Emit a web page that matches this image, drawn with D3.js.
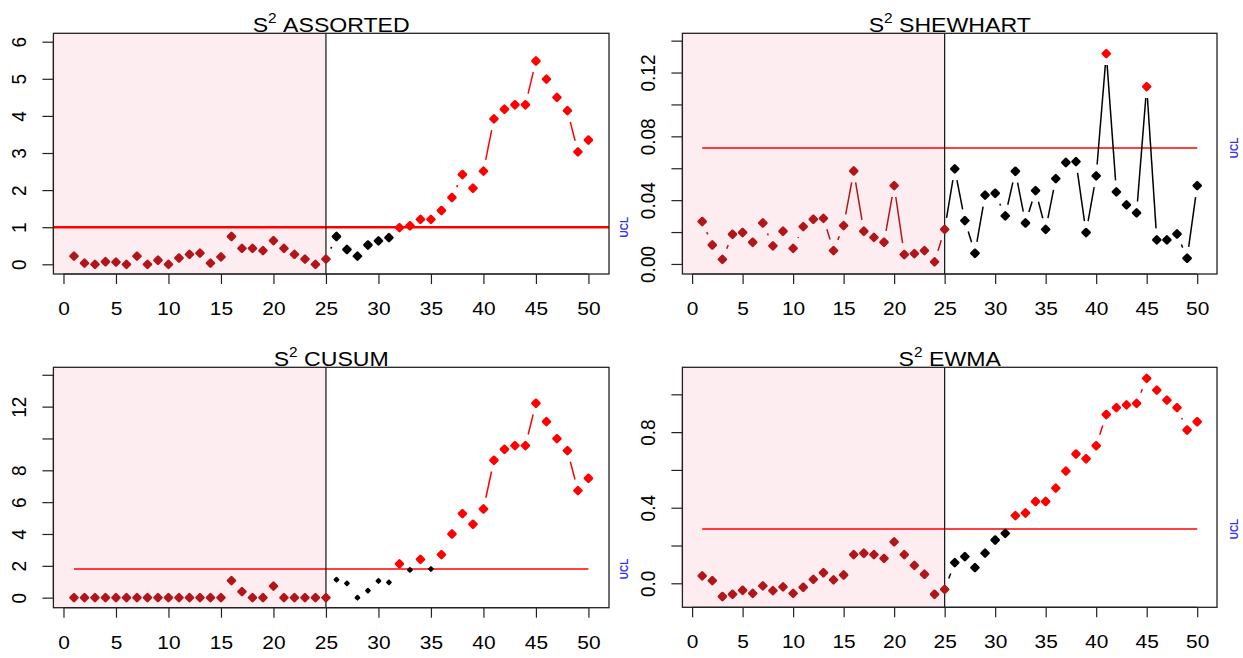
<!DOCTYPE html>
<html><head><meta charset="utf-8">
<script src="https://cdn.jsdelivr.net/npm/d3@7"></script>
<style>
html,body{margin:0;padding:0;background:#fff;}
svg{display:block;}
text{font-family:"Liberation Sans",Arial,sans-serif;}
</style></head>
<body>
<svg id="chart" width="1243" height="658"></svg>
<script>
// ---------- data ----------
const samples = [1,2,3,4,5,6,7,8,9,10,11,12,13,14,15,16,17,18,19,20,21,22,23,24,25,
                 26,27,28,29,30,31,32,33,34,35,36,37,38,39,40,41,42,43,44,45,46,47,48,49,50];
const xTicks = [0,5,10,15,20,25,30,35,40,45,50];
const phaseSplit = 25;

const assortedValues = [0.22,0.03,0.00,0.07,0.06,0.00,0.22,0.00,0.11,0.00,0.17,0.27,0.30,0.03,0.20,0.75,0.43,0.43,0.37,0.64,0.43,0.27,0.14,0.00,0.14,
                        0.75,0.40,0.22,0.52,0.63,0.72,0.99,1.04,1.21,1.21,1.45,1.80,2.42,2.05,2.51,3.92,4.18,4.30,4.30,5.48,4.99,4.50,4.14,3.03,3.35];
const assortedStatus = "IIIIIIIIIIIIIIIIIIIIIIIIINNNNNNOOOOOOOOOOOOOOOOOOO";
const assortedUCL = 1.0;
const assortedYTicks = [0,1,2,3,4,5,6];
const assortedYLabels = ["0","1","2","3","4","5","6"];

const shewhartValues = [0.0266,0.0119,0.0029,0.0186,0.0197,0.0136,0.0257,0.0113,0.0205,0.0098,0.0234,0.0280,0.0286,0.0084,0.0240,0.0583,0.0205,0.0167,0.0136,0.0491,0.0059,0.0065,0.0084,0.0013,0.0217,
                        0.0596,0.0272,0.0067,0.0431,0.0443,0.0301,0.0581,0.0257,0.0460,0.0217,0.0535,0.0636,0.0642,0.0197,0.0552,0.1319,0.0452,0.0370,0.0320,0.1112,0.0151,0.0151,0.0188,0.0036,0.0491];
const shewhartStatus = "IIIIIIIIIIIIIIIIIIIIIIIIINNNNNNNNNNNNNNNONNNONNNNN";
const shewhartUCL = 0.0727;
const shewhartYTicks = [0,0.02,0.04,0.06,0.08,0.10,0.12,0.14];
const shewhartYLabels = ["0.00","","0.04","","0.08","","0.12",""];

const cusumValues = [0,0,0,0,0,0,0,0,0,0,0,0,0,0,0,1.07,0.38,0,0,0.73,0,0,0,0,0,
                     1.13,0.90,0,0.44,1.05,0.96,2.12,1.74,2.41,1.80,2.70,4.00,5.28,4.61,5.57,8.63,9.32,9.55,9.55,12.21,11.06,9.99,9.24,6.72,7.50];
const cusumStatus = "IIIIIIIIIIIIIIIIIIIIIIIIINNNNNNONONOOOOOOOOOOOOOOO";
const cusumUCL = 1.80;
const cusumYTicks = [0,2,4,6,8,10,12,14];
const cusumYLabels = ["0","2","4","6","8","","12",""];

const ewmaValues = [0.039,0.014,-0.070,-0.058,-0.037,-0.053,-0.014,-0.039,-0.019,-0.053,-0.021,0.021,0.056,0.018,0.044,0.152,0.159,0.152,0.132,0.219,0.152,0.095,0.048,-0.058,-0.032,
                    0.109,0.141,0.083,0.160,0.229,0.264,0.358,0.372,0.433,0.433,0.504,0.594,0.684,0.659,0.728,0.893,0.930,0.944,0.952,1.084,1.022,0.969,0.930,0.811,0.855];
const ewmaStatus = "IIIIIIIIIIIIIIIIIIIIIIIIINNNNNNOOOOOOOOOOOOOOOOOOO";
const ewmaUCL = 0.287;
const ewmaYTicks = [0,0.2,0.4,0.6,0.8,1.0];
const ewmaYLabels = ["0.0","","0.4","","0.8",""];

const titles = ["ASSORTED","SHEWHART","CUSUM","EWMA"];

// ---------- layout / style ----------
const panels = [
  {title:titles[0], values:assortedValues, status:assortedStatus, ucl:assortedUCL, yTicks:assortedYTicks, yLabels:assortedYLabels,
   box:{x0:53.4,x1:609,y0:33.3,y1:274}, yDom:[-0.261,6.226], uclFull:true, smallN:false, uclLabelX:624},
  {title:titles[1], values:shewhartValues, status:shewhartStatus, ucl:shewhartUCL, yTicks:shewhartYTicks, yLabels:shewhartYLabels,
   box:{x0:682.4,x1:1217,y0:33.3,y1:274}, yDom:[-0.0063,0.1446], uclFull:false, smallN:false, uclLabelX:1234, blackLines:true},
  {title:titles[2], values:cusumValues, status:cusumStatus, ucl:cusumUCL, yTicks:cusumYTicks, yLabels:cusumYLabels,
   box:{x0:53.4,x1:609,y0:367.3,y1:607.7}, yDom:[-0.63,14.47], uclFull:false, smallN:true, uclLabelX:624},
  {title:titles[3], values:ewmaValues, status:ewmaStatus, ucl:ewmaUCL, yTicks:ewmaYTicks, yLabels:ewmaYLabels,
   box:{x0:682.4,x1:1217,y0:367.3,y1:607.3}, yDom:[-0.127,1.143], uclFull:false, smallN:false, uclLabelX:1234}
];
const xDom = [1 - 0.04*49, 50 + 0.04*49];
const colors = {I:"#b0161a", N:"#000000", O:"#ff0000"};
const shade = "#fdedf1";
const GAP = 11.5;
const TX = 1.1; // horizontal stretch of text in the reference

const svg = d3.select("#chart");

function diamond(r){ return `M0,${-r}L${r},0L0,${r}L${-r},0Z`; }

panels.forEach(p => {
  const g = svg.append("g");
  const x = d3.scaleLinear().domain(xDom).range([p.box.x0, p.box.x1]);
  const y = d3.scaleLinear().domain(p.yDom).range([p.box.y1, p.box.y0]);

  // pink phase I shade
  g.append("rect").attr("x", p.box.x0).attr("y", p.box.y0)
    .attr("width", x(phaseSplit) - p.box.x0).attr("height", p.box.y1 - p.box.y0)
    .attr("fill", shade);

  // UCL line
  if (p.uclFull) {
    g.append("line").attr("x1", p.box.x0).attr("x2", p.box.x1)
      .attr("y1", y(p.ucl)).attr("y2", y(p.ucl))
      .attr("stroke", "#ff0000").attr("stroke-width", 2.4);
  } else {
    g.append("line").attr("x1", x(samples[0])).attr("x2", x(samples[samples.length-1]))
      .attr("y1", y(p.ucl)).attr("y2", y(p.ucl))
      .attr("stroke", "#ff0000").attr("stroke-width", 1.4);
  }
  // UCL label
  g.append("text").attr("transform", `translate(${p.uclLabelX},${y(p.ucl)}) rotate(-90)`)
    .attr("text-anchor", "middle").attr("dominant-baseline", "central")
    .attr("font-size", 10).attr("font-weight", "bold").attr("fill", "#3333ff").text("UCL");

  // phase line
  g.append("line").attr("x1", x(phaseSplit)).attr("x2", x(phaseSplit))
    .attr("y1", p.box.y0).attr("y2", p.box.y1)
    .attr("stroke", "#111").attr("stroke-width", 1.2);

  // gapped connecting segments (type "b")
  const pts = samples.map((s,i) => ({s, v:p.values[i], st:p.status[i], px:x(s), py:y(p.values[i])}));
  for (let i = 0; i < pts.length - 1; i++) {
    const a = pts[i], b = pts[i+1];
    const dx = b.px - a.px, dy = b.py - a.py, L = Math.hypot(dx, dy);
    if (L <= 2*GAP) continue;
    const ux = dx/L, uy = dy/L;
    let col;
    if (b.s <= phaseSplit) col = colors.I;
    else if (!p.blackLines && a.st === "O" && b.st === "O") col = colors.O;
    else col = colors.N;
    g.append("line").attr("x1", a.px + ux*GAP).attr("y1", a.py + uy*GAP)
      .attr("x2", b.px - ux*GAP).attr("y2", b.py - uy*GAP)
      .attr("stroke", col).attr("stroke-width", 1.5);
  }

  // points
  g.selectAll("path.pt").data(pts).enter().append("path")
    .attr("class","pt")
    .attr("transform", d => `translate(${d.px},${d.py})`)
    .attr("d", d => (p.smallN && d.st === "N") ? diamond(1.9) : diamond(3.5))
    .attr("fill", d => colors[d.st])
    .attr("stroke", d => colors[d.st]).attr("stroke-width", d => (p.smallN && d.st === "N") ? 2 : 2.6)
    .attr("stroke-linejoin", "round");

  // box
  g.append("rect").attr("x", p.box.x0).attr("y", p.box.y0)
    .attr("width", p.box.x1 - p.box.x0).attr("height", p.box.y1 - p.box.y0)
    .attr("fill", "none").attr("stroke", "#222").attr("stroke-width", 1.3);

  // x axis
  const xa = g.append("g").attr("transform", `translate(0,${p.box.y1})`)
    .call(d3.axisBottom(x).tickValues(xTicks).tickSize(10).tickSizeOuter(0).tickFormat(d3.format("d")));
  xa.select(".domain").remove();
  xa.selectAll(".tick line").attr("stroke", "#222").attr("stroke-width", 1.2);
  xa.append("line").attr("x1", x(xTicks[0])).attr("x2", x(xTicks[xTicks.length-1]))
    .attr("y1", 0).attr("y2", 0).attr("stroke", "#222").attr("stroke-width", 1.2);
  xa.selectAll(".tick text").attr("y", null).attr("dy", null)
    .attr("transform", `translate(0,41) scale(${TX},1)`)
    .attr("font-size", 19).attr("fill", "#000").attr("font-family", "Liberation Sans, Arial, sans-serif");

  // y axis
  const ya = g.append("g").attr("transform", `translate(${p.box.x0},0)`)
    .call(d3.axisLeft(y).tickValues(p.yTicks).tickSize(11).tickSizeOuter(0)
      .tickFormat((d,i) => p.yLabels[i]));
  ya.select(".domain").remove();
  ya.selectAll(".tick line").attr("stroke", "#222").attr("stroke-width", 1.2);
  ya.append("line").attr("x1", 0).attr("x2", 0)
    .attr("y1", y(p.yTicks[0])).attr("y2", y(p.yTicks[p.yTicks.length-1])).attr("stroke", "#222").attr("stroke-width", 1.2);
  ya.selectAll(".tick text").attr("x", null).attr("dy", null)
    .attr("text-anchor", "middle").attr("dominant-baseline", "central")
    .attr("transform", `translate(${-34.5},0) scale(${TX},1) rotate(-90)`)
    .attr("font-size", 19).attr("fill", "#000").attr("font-family", "Liberation Sans, Arial, sans-serif");

  // title
  const cx = (p.box.x0 + p.box.x1) / 2;
  const t = g.append("text").attr("transform", `translate(${cx},${p.box.y0 - 1.5}) scale(1.1,1)`)
    .attr("text-anchor", "middle").attr("font-size", 21).attr("fill", "#000");
  t.append("tspan").text("S");
  t.append("tspan").attr("dy", -9).attr("font-size", 14).text("2");
  t.append("tspan").attr("dy", 9).text("\u00a0" + p.title);
});
</script>
</body></html>
